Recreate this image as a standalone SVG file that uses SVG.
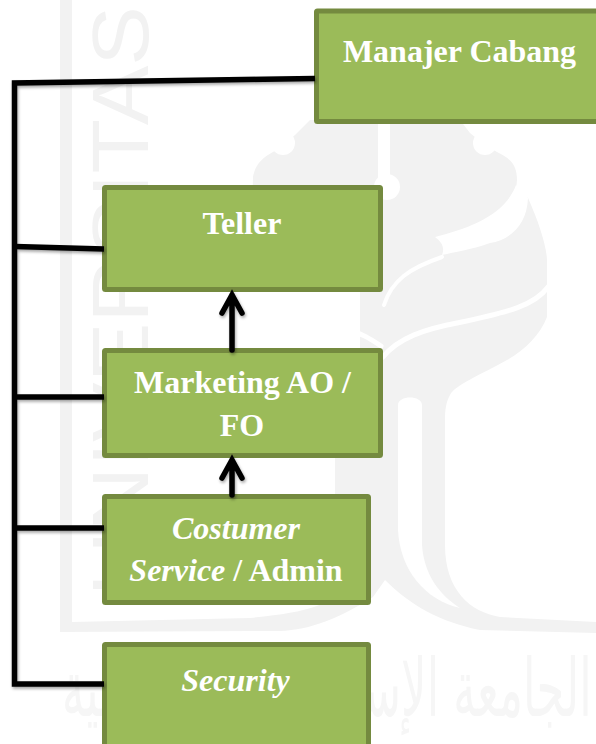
<svg xmlns="http://www.w3.org/2000/svg" width="596" height="744" viewBox="0 0 596 744">
<style>
.wm{fill:#f2f2f2}
.wl{fill:none;stroke:#fff;stroke-linecap:round}
.wt{fill:#f2f2f2;font-family:"Liberation Sans",sans-serif}
.wa{fill:#f6f6f6;font-family:"DejaVu Sans",sans-serif}
.box{fill:#9bbb59;stroke:#748a3f;stroke-width:5;stroke-linejoin:round}
.lbl{fill:#fff;font-family:"Liberation Serif",serif;font-weight:bold;font-size:32px}
.c{text-anchor:middle}
.i{font-style:italic}
.ln{fill:none;stroke:#000;stroke-width:5.500}
.ar{fill:none;stroke:#000;stroke-width:5.500;stroke-linecap:round;stroke-linejoin:miter}
</style>
<defs><filter id="sh" x="-5%" y="-5%" width="110%" height="110%"><feDropShadow dx="1" dy="2" stdDeviation="1.5" flood-color="#000" flood-opacity=".35"/></filter></defs>
<rect width="596" height="744" fill="#fff"/>
<g id="watermark">
<path class="wm" d="M253 177C255 165 262 158 273 152L283 145L295 135L310 120H460L470 133L485 145L497 152C510 158 517 165 517 180L516 190L528 198C540 225 548 250 547 265V317C540 335 525 350 507 360C480 375 455 385 450 395C446 402 445 410 445 420V545C445 590 470 612 500 617L596 622V633L480 630C440 622 410 605 385 580L373 597C340 618 310 630 280 631L60 632V0H72V622L250 618C280 615 300 612 317 606L335 598V458H360V292H250Z"/>
<path d="M398 405C398 395 422 395 422 405V545C424 575 440 595 460 608C425 600 400 570 398 530Z" fill="#fff"/>
<circle cx="283" cy="143" r="12" fill="#fff"/>
<circle cx="485" cy="143" r="12" fill="#fff"/>
<circle cx="387" cy="187" r="13" fill="#fff"/>
<path d="M384 118V187" stroke="#fff" stroke-width="12" fill="none"/>
<path d="M516 185L528 198C527 225 510 240 490 243C470 250 455 252 442 255C445 248 442 242 435 237C470 228 505 215 516 185Z" fill="#fff"/>
<path class="wl" stroke-width="4" d="M442 257C410 268 392 280 384 305"/>
<path class="wl" stroke-width="5" d="M548 287C535 305 510 312 457 323C425 329 398 338 383 357"/>
<path class="wl" stroke-width="5" d="M243 302C265 318 320 320 345 329C362 333 372 340 381 346"/>
<text class="wt" font-size="80" transform="translate(148 596) rotate(-90)" textLength="590" lengthAdjust="spacingAndGlyphs">UNIVERSITAS</text>
<text class="wa" font-size="80" text-anchor="end" direction="rtl" transform="translate(62 716) scale(.56 1)">الجامعة الإسلامية الإندونيسية</text>
</g>
<g id="manajer"><rect class="box" x="316.500" y="11" width="300" height="110.500" rx="1"/><text class="lbl c" x="459.500" y="62">Manajer Cabang</text></g>
<g id="teller"><rect class="box" x="104.500" y="187.500" width="276" height="102" rx="1"/><text class="lbl c" x="242" y="234">Teller</text></g>
<g id="marketing"><rect class="box" x="104.500" y="350.500" width="276" height="105" rx="1"/><text class="lbl c" x="242.500" y="393">Marketing AO /</text><text class="lbl c" x="242" y="436">FO</text></g>
<g id="costumer"><rect class="box" x="104.500" y="496.500" width="264" height="106" rx="1"/><text class="lbl i c" x="236" y="539">Costumer</text><text class="lbl c" x="236" y="581"><tspan class="i">Service</tspan> / Admin</text></g>
<g id="security"><rect class="box" x="104.500" y="644.500" width="264" height="120" rx="1"/><text class="lbl i c" x="235.500" y="691">Security</text></g>
<g id="connectors" filter="url(#sh)">
<path class="ln" d="M315 78.500L14.500 83V684H104"/>
<path class="ln" d="M15 246.500L104 249"/>
<path class="ln" d="M15 397H104"/>
<path class="ln" d="M15 528H104"/>
<path class="ar" d="M232 350V295M222 313L232 295L242 313"/>
<path class="ar" d="M232 495V460M222 478L232 460L242 478"/>
</g>
</svg>
